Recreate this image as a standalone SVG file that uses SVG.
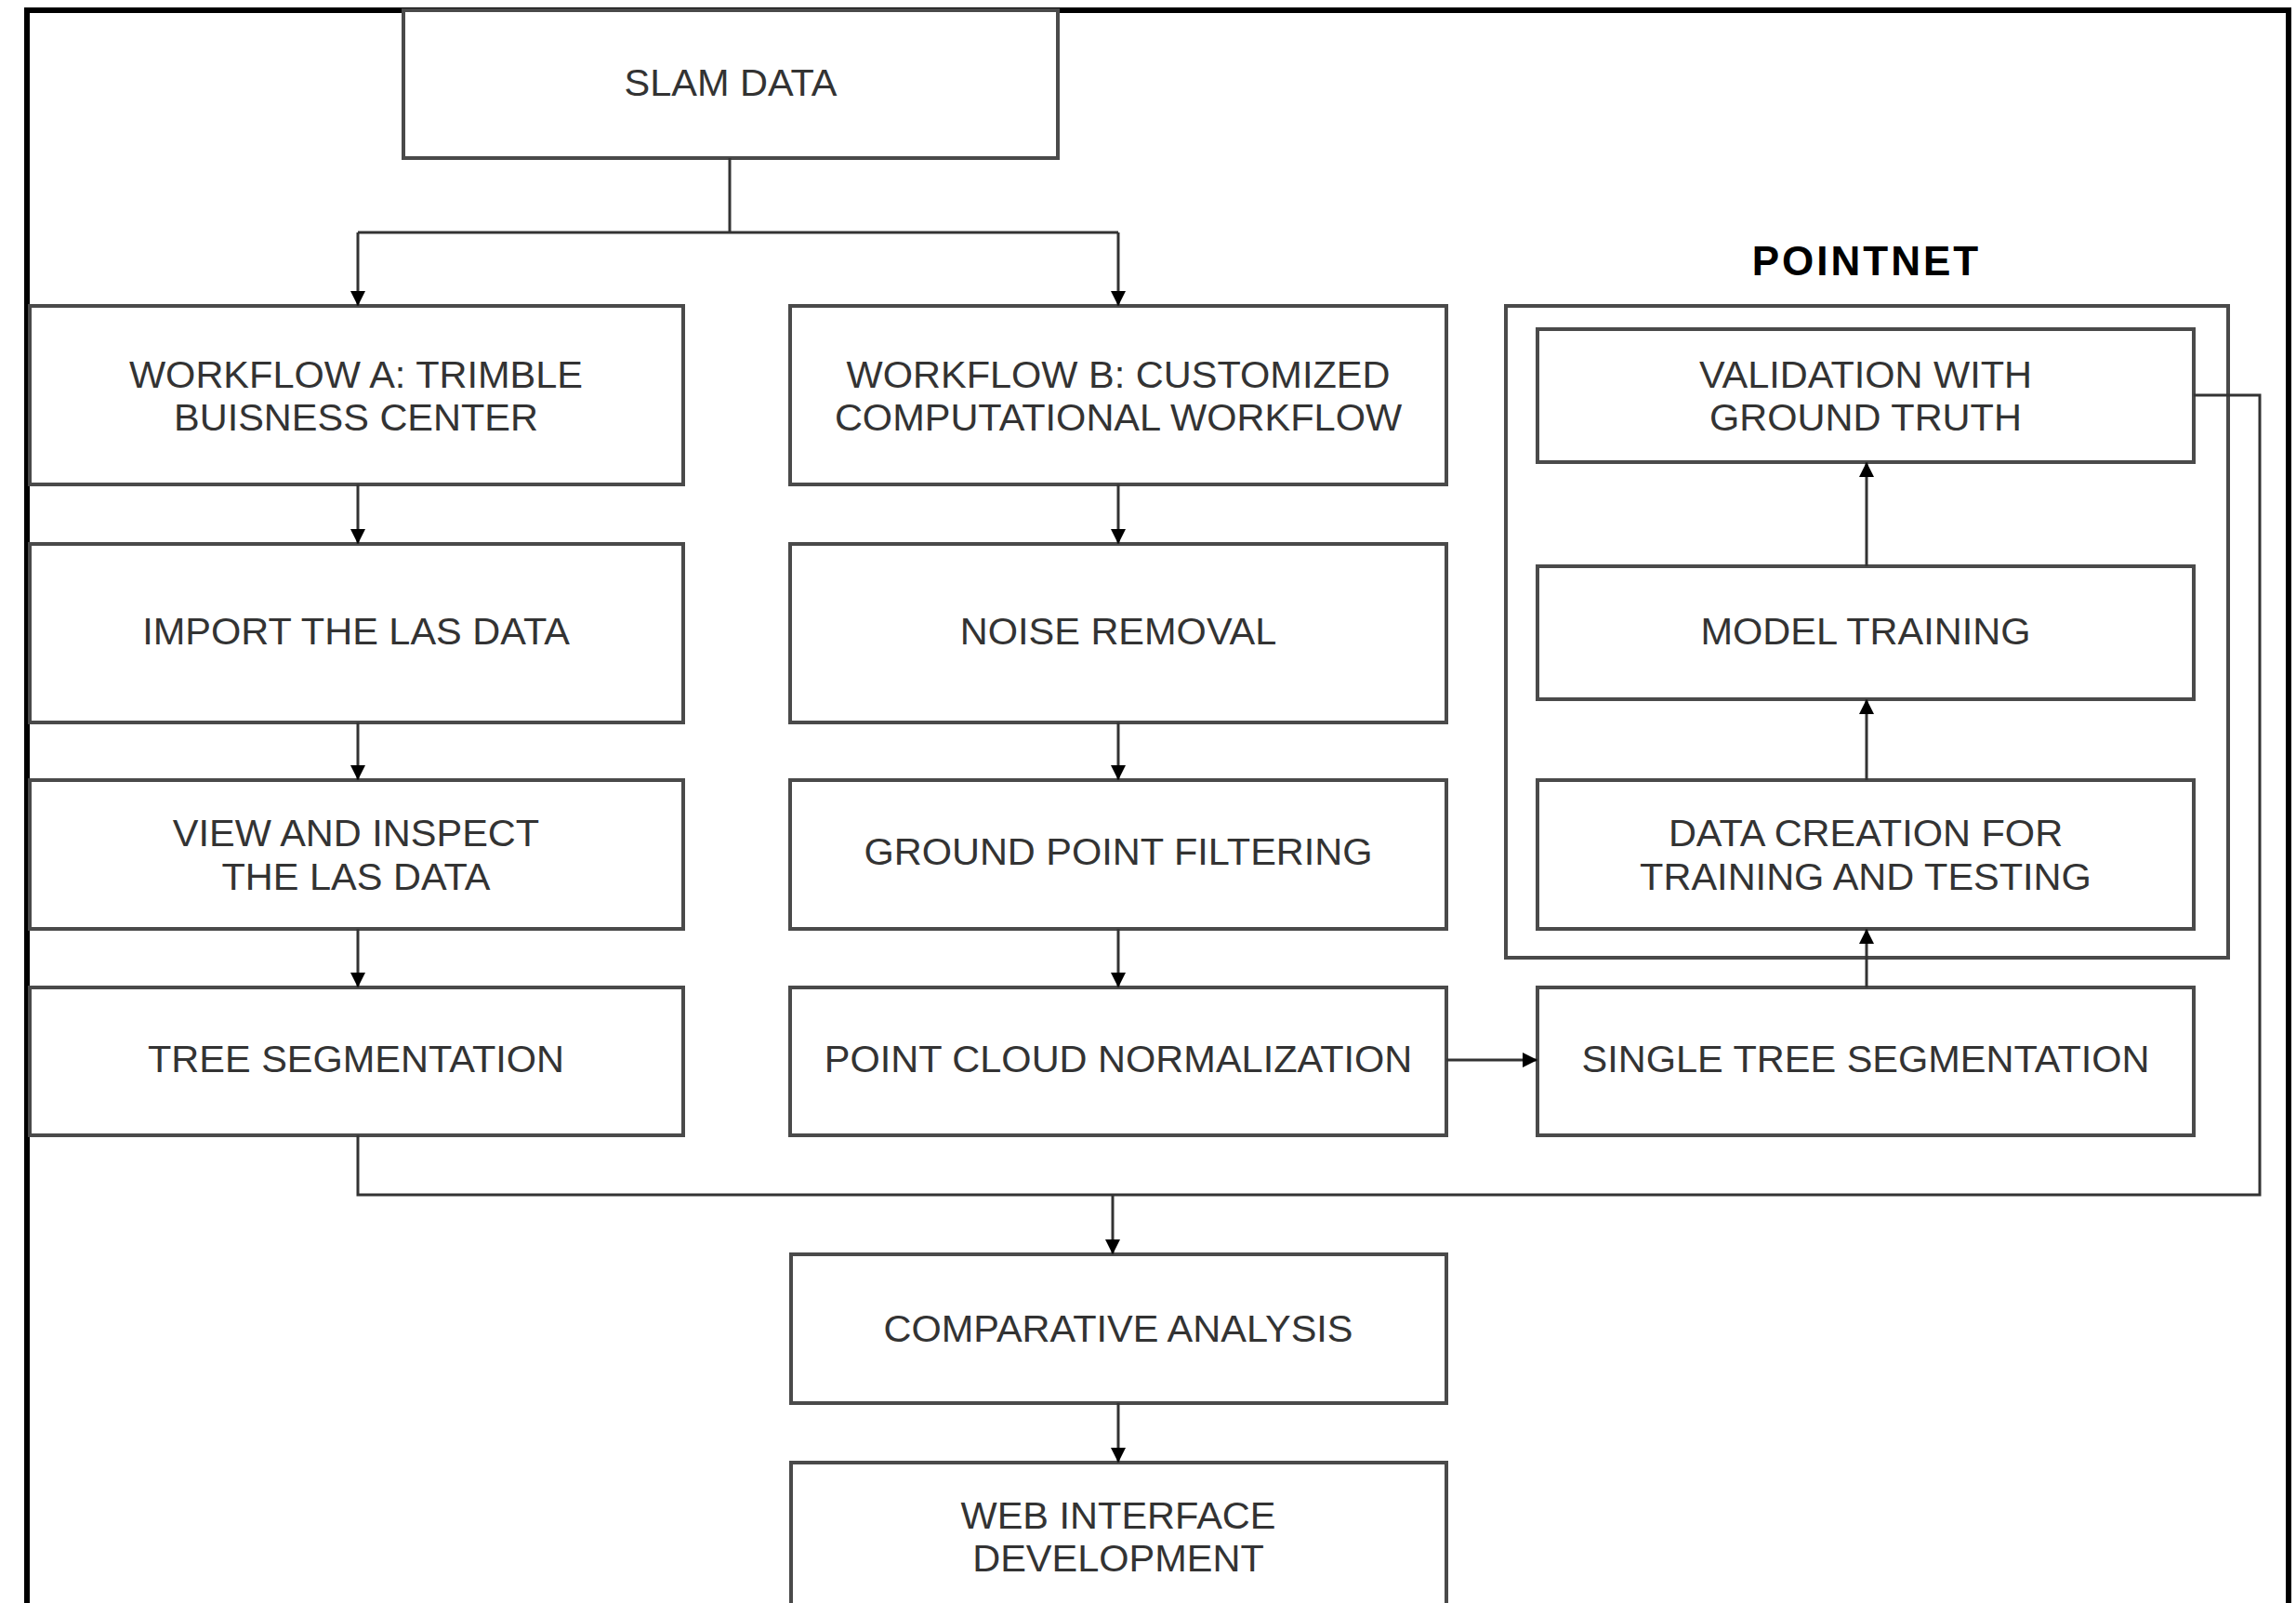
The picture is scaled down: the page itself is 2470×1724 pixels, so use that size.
<svg xmlns="http://www.w3.org/2000/svg" width="2470" height="1724" viewBox="0 0 2470 1724">
<style>
.box{fill:#ffffff;stroke:#4a4a4a;stroke-width:4}
.cont{fill:none;stroke:#4a4a4a;stroke-width:4}
.t{font-family:"Liberation Sans",Arial,sans-serif;font-size:41.5px;fill:#333333;text-anchor:middle}
.title{font-family:"Liberation Sans",Arial,sans-serif;font-size:44px;font-weight:bold;fill:#000000;text-anchor:middle;letter-spacing:3px}
.c{fill:none;stroke:#333333;stroke-width:3}
</style>
<defs>
<marker id="ah" viewBox="0 0 10 10" refX="10" refY="5" markerWidth="16" markerHeight="22" markerUnits="userSpaceOnUse" orient="auto">
<path d="M0,0 L10,5 L0,10 Z" fill="#000000"/>
</marker>
</defs>
<rect width="2470" height="1724" fill="#ffffff"/>
<path d="M29,1730 V11 H2462 V1730" fill="none" stroke="#000000" stroke-width="6"/>

<g id="slam"><rect class="box" x="434" y="11" width="704" height="159"/><text class="t" x="786" y="103">SLAM DATA</text></g>

<g id="wfa"><rect class="box" x="32" y="329" width="703" height="192"/><text class="t" x="383" y="417">WORKFLOW A: TRIMBLE</text><text class="t" x="383" y="463">BUISNESS CENTER</text></g>
<g id="import"><rect class="box" x="32" y="585" width="703" height="192"/><text class="t" x="383" y="693">IMPORT THE LAS DATA</text></g>
<g id="view"><rect class="box" x="32" y="839" width="703" height="160"/><text class="t" x="383" y="910">VIEW AND INSPECT</text><text class="t" x="383" y="957">THE LAS DATA</text></g>
<g id="treeseg"><rect class="box" x="32" y="1062" width="703" height="159"/><text class="t" x="383" y="1153">TREE SEGMENTATION</text></g>

<g id="wfb"><rect class="box" x="850" y="329" width="706" height="192"/><text class="t" x="1203" y="417">WORKFLOW B: CUSTOMIZED</text><text class="t" x="1203" y="463">COMPUTATIONAL WORKFLOW</text></g>
<g id="noise"><rect class="box" x="850" y="585" width="706" height="192"/><text class="t" x="1203" y="693">NOISE REMOVAL</text></g>
<g id="ground"><rect class="box" x="850" y="839" width="706" height="160"/><text class="t" x="1203" y="930">GROUND POINT FILTERING</text></g>
<g id="pcn"><rect class="box" x="850" y="1062" width="706" height="159"/><text class="t" x="1203" y="1153">POINT CLOUD NORMALIZATION</text></g>

<g id="pointnet"><rect class="cont" x="1620" y="329" width="777" height="701"/><text class="title" x="2008" y="296">POINTNET</text></g>
<g id="validation"><rect class="box" x="1654" y="354" width="706" height="143"/><text class="t" x="2007" y="417">VALIDATION WITH</text><text class="t" x="2007" y="463">GROUND TRUTH</text></g>
<g id="model"><rect class="box" x="1654" y="609" width="706" height="143"/><text class="t" x="2007" y="693">MODEL TRAINING</text></g>
<g id="datacreation"><rect class="box" x="1654" y="839" width="706" height="160"/><text class="t" x="2007" y="910">DATA CREATION FOR</text><text class="t" x="2007" y="957">TRAINING AND TESTING</text></g>
<g id="single"><rect class="box" x="1654" y="1062" width="706" height="159"/><text class="t" x="2007" y="1153">SINGLE TREE SEGMENTATION</text></g>

<g id="comparative"><rect class="box" x="851" y="1349" width="705" height="160"/><text class="t" x="1203" y="1443">COMPARATIVE ANALYSIS</text></g>
<g id="web"><rect class="box" x="851" y="1573" width="705" height="170"/><text class="t" x="1203" y="1644">WEB INTERFACE</text><text class="t" x="1203" y="1690">DEVELOPMENT</text></g>

<g id="connectors">
<path class="c" d="M785,170 V250 M385,250 H1203"/>
<path class="c" d="M385,250 V329" marker-end="url(#ah)"/>
<path class="c" d="M1203,250 V329" marker-end="url(#ah)"/>
<path class="c" d="M385,521 V585" marker-end="url(#ah)"/>
<path class="c" d="M385,777 V839" marker-end="url(#ah)"/>
<path class="c" d="M385,999 V1062" marker-end="url(#ah)"/>
<path class="c" d="M1203,521 V585" marker-end="url(#ah)"/>
<path class="c" d="M1203,777 V839" marker-end="url(#ah)"/>
<path class="c" d="M1203,999 V1062" marker-end="url(#ah)"/>
<path class="c" d="M1556,1140 H1654" marker-end="url(#ah)"/>
<path class="c" d="M2008,1062 V999" marker-end="url(#ah)"/>
<path class="c" d="M2008,839 V752" marker-end="url(#ah)"/>
<path class="c" d="M2008,609 V497" marker-end="url(#ah)"/>
<path class="c" d="M2360,425 H2431 V1285 H385 V1221"/>
<path class="c" d="M1197,1285 V1349" marker-end="url(#ah)"/>
<path class="c" d="M1203,1509 V1573" marker-end="url(#ah)"/>
</g>
</svg>
